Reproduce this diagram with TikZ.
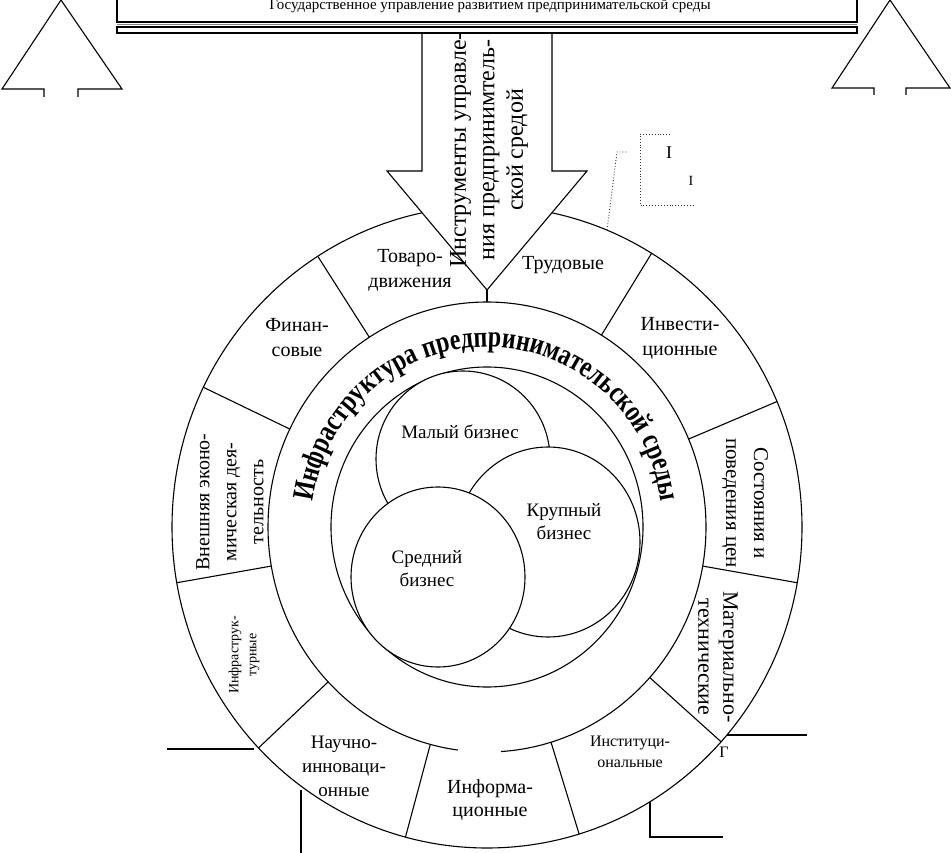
\documentclass[tikz,border=0pt]{standalone}
\usepackage{fontspec}
\setmainfont{Liberation Serif}
\newfontfamily\curvefont[FakeStretch=0.8]{Liberation Serif}
\usetikzlibrary{decorations.text}
\begin{document}
\begin{tikzpicture}[x=1pt,y=1pt,
  ln/.style={line width=1.1pt, black},
  dot/.style={dotted, line width=0.9pt, black!80},
  lbl/.style={font=\fontsize{20}{25}\selectfont, align=center, inner sep=0pt},
  lblsm/.style={font=\fontsize{16}{21}\selectfont, align=center, inner sep=0pt},
  lblxs/.style={font=\fontsize{14}{18}\selectfont, align=center, inner sep=0pt},
  lblc/.style={font=\fontsize{19}{23}\selectfont, align=center, inner sep=0pt},
  disc/.style={ln, fill=white}]
\useasboundingbox (0,0) rectangle (951,-853);
\coordinate (C) at (487,-527);

% rings
\draw[ln] (C) ellipse[x radius=315, y radius=321];
\draw[ln] (C) ellipse[x radius=219, y radius=225];
\draw[ln] (C) ellipse[x radius=156, y radius=160];

% sector dividers
\foreach \a in {122.5,58.5,154.2,23,190,-10,223.5,-42,255,-73}
  \draw[ln, shift={(C)}] ({219*cos(\a)},{225*sin(\a)}) -- ({315*cos(\a)},{321*sin(\a)});

% gap in middle ring
\fill[white] (458,-746) rectangle (501,-761);

% three business circles
\draw[disc] (463,-459) ellipse[x radius=87, y radius=88];
\draw[disc] (548,-542) ellipse[x radius=92, y radius=95];
\draw[disc] (438,-577) ellipse[x radius=87, y radius=90];

% big arrow from the top
\draw[ln, fill=white] (422,-33) -- (422,-171) -- (387,-171) -- (487,-290)
  -- (587,-171) -- (552,-171) -- (552,-33);
\coordinate (tip) at (487,-290);
\coordinate (midtop) at (487,-302);
\draw[ln] (tip) -- (midtop);

% top box and bar
\draw[ln] (117,5) -- (117,-22) -- (857,-22) -- (857,5);
\draw[gray, line width=1.6pt] (117,-24.5) -- (857,-24.5);
\draw[ln] (117,-27) rectangle (857,-33);

% side up-arrows
\draw[ln] (44,-97) -- (44,-89) -- (2,-89) -- (61,0) -- (122,-89) -- (78,-89) -- (78,-97);
\draw[ln] (874,-95) -- (874,-88) -- (832,-88) -- (890,0) -- (950,-88) -- (906,-88) -- (906,-95);

% dotted callout
\draw[dot] (607,-230) -- (617,-152) -- (627,-152);
\draw[dot] (670,-134) -- (640,-134) -- (640,-205) -- (693,-205);

% outer bottom lines
\draw[ln] (167,-749) -- (254,-749);
\draw[ln] (301,-790) -- (301,-853);
\draw[ln] (727,-735) -- (807,-735);
\draw[ln] (650,-802) -- (650,-837) -- (723,-837);

% curved title
\path[decorate, shift={(C)}, decoration={text along path, text align=center,
  text={|\fontsize{30}{30}\curvefont\bfseries|Инфраструктура предпринимательской среды}}]
  (185:176 and 180) arc[start angle=185, end angle=-5, x radius=176, y radius=180];

% texts
\node[font=\fontsize{15}{15}\selectfont, anchor=base, inner sep=0pt] (toptxt) at (490,-10)
  {Государственное управление развитием предпринимательской среды};
\node[rotate=90, font=\fontsize{24}{28.5}\selectfont, align=center, inner sep=0pt] (arrowtxt) at (489,-150)
  {Инструменты управле-\\ния предпринимтель-\\ской средой};

\node[lbl] (tovar) at (410,-270) {Товаро-\\движения};
\node[lbl] (trud) at (563,-265) {Трудовые};
\node[lbl] (fin) at (297,-338) {Финан-\\совые};
\node[lbl] (inv) at (680,-338) {Инвести-\\ционные};
\node[lbl, rotate=90, font=\fontsize{20}{27}\selectfont] (ved) at (230,-502) {Внешняя эконо-\\мическая дея-\\тельность};
\node[lbl, rotate=-90, font=\fontsize{21}{28}\selectfont] (cen) at (745,-503) {Состояния и\\поведения цен};
\node[lbl, rotate=-90, font=\fontsize{22}{25}\selectfont] (mat) at (718,-657) {Материально-\\технические};
\node[lblxs, rotate=90] (infr) at (244,-655) {Инфраструк-\\турные};
\node[lbl, font=\fontsize{19}{24}\selectfont] (nauch) at (344,-766) {Научно-\\инноваци-\\онные};
\node[lbl, font=\fontsize{20}{23}\selectfont] (inform) at (490,-800) {Информа-\\ционные};
\node[lblsm] (inst) at (630,-752) {Институци-\\ональные};
\node[lblsm] (gfrag) at (724,-752) {Г};
\node[font=\fontsize{18}{18}\selectfont, inner sep=0pt] (call1) at (669,-153) {I};
\node[font=\fontsize{14}{14}\selectfont, inner sep=0pt] (call2) at (691,-181) {I};

\node[lblc] (maly) at (460,-432) {Малый бизнес};
\node[lblc] (krup) at (564,-522) {Крупный\\бизнес};
\node[lblc] (sred) at (427,-569) {Средний\\бизнес};
\end{tikzpicture}
\end{document}
